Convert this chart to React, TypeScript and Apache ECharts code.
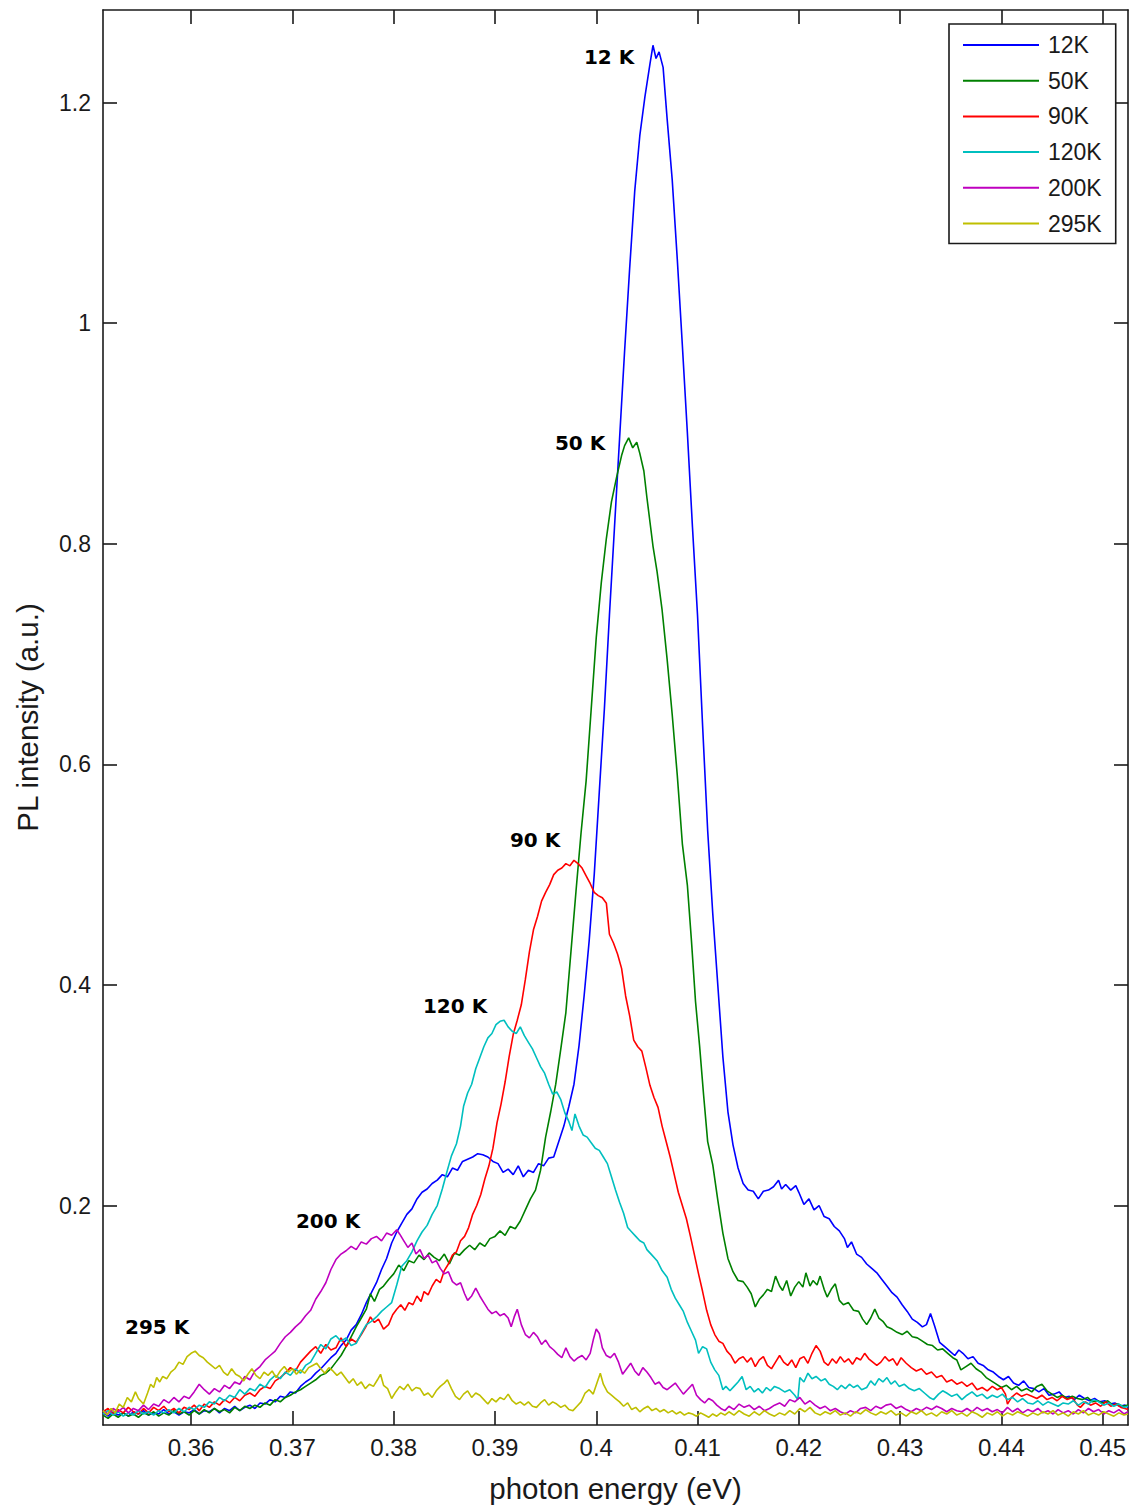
import React, { useEffect, useRef } from "react";
import * as echarts from "echarts";

const seriesNames = ["12K", "50K", "90K", "120K", "200K", "295K"];
const seriesColors = ["#0000ff", "#008000", "#ff0000", "#00bfbf", "#bf00bf", "#bfbf00"];
const xTicks = [0.36, 0.37, 0.38, 0.39, 0.4, 0.41, 0.42, 0.43, 0.44, 0.45];
const yTicks = [0.2, 0.4, 0.6, 0.8, 1.0, 1.2];

const pl12K = [[0.3513,0.012],[0.3518,0.009],[0.3523,0.013],[0.3528,0.010],[0.3533,0.012],[0.3538,0.009],[0.3543,0.013],[0.3548,0.011],[0.3553,0.014],[0.3558,0.010],[0.3563,0.012],[0.3568,0.011],[0.3573,0.015],[0.3578,0.011],[0.3583,0.013],[0.3588,0.010],[0.3593,0.013],[0.3598,0.012],[0.3603,0.015],[0.3608,0.011],[0.3613,0.014],[0.3618,0.013],[0.3623,0.016],[0.3628,0.012],[0.3633,0.016],[0.3638,0.014],[0.3643,0.018],[0.3648,0.014],[0.3653,0.017],[0.3658,0.019],[0.3663,0.016],[0.3668,0.021],[0.3673,0.020],[0.3678,0.024],[0.3683,0.022],[0.3688,0.027],[0.3693,0.026],[0.3698,0.031],[0.3703,0.030],[0.3708,0.036],[0.3713,0.040],[0.3718,0.043],[0.3723,0.048],[0.3728,0.052],[0.3733,0.057],[0.3738,0.062],[0.3743,0.066],[0.3748,0.073],[0.3753,0.078],[0.3758,0.087],[0.3763,0.092],[0.3768,0.101],[0.3773,0.112],[0.3778,0.121],[0.3783,0.130],[0.3788,0.142],[0.3793,0.152],[0.3798,0.166],[0.3803,0.176],[0.3808,0.184],[0.3813,0.192],[0.3818,0.197],[0.3823,0.206],[0.3828,0.212],[0.3833,0.215],[0.3838,0.220],[0.3843,0.223],[0.3848,0.228],[0.3853,0.226],[0.3858,0.234],[0.3863,0.232],[0.3868,0.240],[0.3873,0.242],[0.3878,0.244],[0.3883,0.247],[0.3888,0.246],[0.3893,0.244],[0.3898,0.240],[0.3903,0.238],[0.3908,0.230],[0.3913,0.233],[0.3918,0.228],[0.3923,0.236],[0.3928,0.226],[0.3933,0.232],[0.3938,0.230],[0.3943,0.238],[0.3948,0.236],[0.3953,0.243],[0.3958,0.244],[0.3963,0.258],[0.3968,0.272],[0.3973,0.290],[0.3978,0.310],[0.3983,0.345],[0.3988,0.390],[0.3993,0.440],[0.3998,0.500],[0.4003,0.575],[0.4008,0.650],[0.4013,0.735],[0.4018,0.815],[0.4023,0.895],[0.4028,0.975],[0.4033,1.050],[0.4038,1.120],[0.4043,1.170],[0.4048,1.205],[0.4053,1.235],[0.4056,1.252],[0.4059,1.240],[0.4062,1.246],[0.4066,1.232],[0.4070,1.185],[0.4075,1.130],[0.4080,1.058],[0.4085,0.980],[0.4090,0.900],[0.4095,0.815],[0.4100,0.735],[0.4105,0.635],[0.4110,0.540],[0.4115,0.465],[0.4120,0.400],[0.4125,0.335],[0.4130,0.285],[0.4135,0.255],[0.4140,0.234],[0.4145,0.220],[0.4150,0.214],[0.4155,0.213],[0.4160,0.206],[0.4165,0.213],[0.4170,0.214],[0.4175,0.217],[0.4180,0.223],[0.4183,0.215],[0.4187,0.219],[0.4192,0.214],[0.4197,0.218],[0.4200,0.212],[0.4205,0.201],[0.4210,0.206],[0.4215,0.196],[0.4220,0.200],[0.4225,0.190],[0.4230,0.188],[0.4235,0.181],[0.4240,0.177],[0.4245,0.170],[0.4248,0.162],[0.4252,0.167],[0.4257,0.156],[0.4262,0.153],[0.4267,0.147],[0.4272,0.143],[0.4277,0.139],[0.4282,0.133],[0.4287,0.127],[0.4292,0.121],[0.4297,0.117],[0.4302,0.110],[0.4307,0.104],[0.4312,0.097],[0.4317,0.094],[0.4322,0.090],[0.4326,0.092],[0.4330,0.102],[0.4334,0.091],[0.4339,0.076],[0.4344,0.072],[0.4349,0.068],[0.4354,0.064],[0.4358,0.069],[0.4362,0.066],[0.4367,0.061],[0.4372,0.063],[0.4377,0.057],[0.4382,0.055],[0.4387,0.051],[0.4392,0.049],[0.4397,0.045],[0.4402,0.042],[0.4407,0.045],[0.4412,0.039],[0.4417,0.037],[0.4422,0.041],[0.4427,0.035],[0.4432,0.034],[0.4437,0.031],[0.4442,0.034],[0.4447,0.028],[0.4452,0.029],[0.4457,0.031],[0.4462,0.026],[0.4467,0.027],[0.4472,0.024],[0.4477,0.028],[0.4482,0.025],[0.4487,0.023],[0.4492,0.025],[0.4497,0.022],[0.4502,0.023],[0.4507,0.020],[0.4512,0.021],[0.4517,0.018],[0.4522,0.019],[0.4525,0.017]];

const pl50K = [[0.3513,0.010],[0.3518,0.007],[0.3523,0.011],[0.3528,0.008],[0.3533,0.012],[0.3538,0.009],[0.3543,0.011],[0.3548,0.008],[0.3553,0.012],[0.3558,0.010],[0.3563,0.013],[0.3568,0.009],[0.3573,0.012],[0.3578,0.010],[0.3583,0.014],[0.3588,0.011],[0.3593,0.013],[0.3598,0.010],[0.3603,0.014],[0.3608,0.011],[0.3613,0.015],[0.3618,0.012],[0.3623,0.016],[0.3628,0.013],[0.3633,0.015],[0.3638,0.012],[0.3643,0.017],[0.3648,0.014],[0.3653,0.018],[0.3658,0.016],[0.3663,0.019],[0.3668,0.017],[0.3673,0.021],[0.3678,0.019],[0.3683,0.024],[0.3688,0.022],[0.3693,0.026],[0.3698,0.028],[0.3703,0.031],[0.3708,0.033],[0.3713,0.036],[0.3718,0.039],[0.3723,0.042],[0.3728,0.046],[0.3733,0.048],[0.3738,0.052],[0.3743,0.058],[0.3748,0.064],[0.3753,0.072],[0.3758,0.081],[0.3763,0.090],[0.3768,0.098],[0.3773,0.106],[0.3777,0.120],[0.3781,0.113],[0.3786,0.124],[0.3790,0.127],[0.3795,0.133],[0.3800,0.138],[0.3805,0.146],[0.3810,0.141],[0.3815,0.150],[0.3820,0.148],[0.3825,0.155],[0.3830,0.151],[0.3835,0.157],[0.3840,0.153],[0.3845,0.150],[0.3850,0.156],[0.3855,0.147],[0.3860,0.157],[0.3865,0.155],[0.3870,0.160],[0.3875,0.164],[0.3880,0.160],[0.3885,0.166],[0.3890,0.163],[0.3895,0.170],[0.3900,0.172],[0.3905,0.177],[0.3910,0.173],[0.3915,0.181],[0.3920,0.179],[0.3925,0.186],[0.3930,0.196],[0.3935,0.206],[0.3940,0.214],[0.3945,0.232],[0.3950,0.262],[0.3955,0.285],[0.3960,0.310],[0.3965,0.342],[0.3970,0.375],[0.3975,0.430],[0.3980,0.485],[0.3985,0.538],[0.3990,0.585],[0.3995,0.650],[0.4000,0.715],[0.4005,0.765],[0.4010,0.805],[0.4015,0.838],[0.4020,0.860],[0.4025,0.880],[0.4028,0.889],[0.4032,0.896],[0.4036,0.887],[0.4040,0.892],[0.4043,0.882],[0.4047,0.866],[0.4050,0.842],[0.4053,0.820],[0.4056,0.798],[0.4060,0.775],[0.4065,0.740],[0.4070,0.695],[0.4075,0.645],[0.4080,0.590],[0.4085,0.528],[0.4090,0.490],[0.4094,0.440],[0.4098,0.385],[0.4102,0.345],[0.4106,0.300],[0.4110,0.258],[0.4115,0.237],[0.4120,0.205],[0.4125,0.175],[0.4130,0.152],[0.4135,0.140],[0.4140,0.132],[0.4145,0.131],[0.4149,0.126],[0.4153,0.120],[0.4157,0.108],[0.4161,0.115],[0.4165,0.119],[0.4169,0.124],[0.4173,0.122],[0.4177,0.136],[0.4181,0.127],[0.4184,0.123],[0.4188,0.132],[0.4192,0.118],[0.4196,0.126],[0.4200,0.131],[0.4204,0.126],[0.4207,0.139],[0.4211,0.127],[0.4214,0.132],[0.4218,0.128],[0.4221,0.136],[0.4225,0.124],[0.4228,0.117],[0.4232,0.124],[0.4236,0.129],[0.4240,0.114],[0.4244,0.110],[0.4249,0.112],[0.4254,0.105],[0.4259,0.104],[0.4263,0.097],[0.4267,0.092],[0.4271,0.098],[0.4275,0.106],[0.4279,0.098],[0.4283,0.095],[0.4287,0.090],[0.4292,0.088],[0.4297,0.085],[0.4302,0.083],[0.4307,0.086],[0.4312,0.081],[0.4317,0.080],[0.4322,0.077],[0.4327,0.074],[0.4332,0.073],[0.4337,0.069],[0.4342,0.070],[0.4347,0.066],[0.4352,0.062],[0.4356,0.060],[0.4360,0.051],[0.4365,0.054],[0.4370,0.057],[0.4375,0.052],[0.4380,0.049],[0.4385,0.044],[0.4390,0.041],[0.4395,0.038],[0.4400,0.035],[0.4405,0.037],[0.4410,0.033],[0.4415,0.036],[0.4420,0.032],[0.4425,0.034],[0.4430,0.031],[0.4435,0.036],[0.4440,0.038],[0.4445,0.032],[0.4450,0.029],[0.4455,0.026],[0.4460,0.028],[0.4465,0.025],[0.4470,0.027],[0.4475,0.025],[0.4480,0.024],[0.4485,0.026],[0.4490,0.022],[0.4495,0.023],[0.4500,0.021],[0.4505,0.023],[0.4510,0.019],[0.4515,0.020],[0.4520,0.018],[0.4525,0.019]];

const pl90K = [[0.3513,0.013],[0.3518,0.016],[0.3523,0.011],[0.3528,0.015],[0.3533,0.012],[0.3538,0.017],[0.3543,0.013],[0.3548,0.011],[0.3553,0.016],[0.3558,0.012],[0.3563,0.017],[0.3568,0.014],[0.3573,0.018],[0.3578,0.013],[0.3583,0.016],[0.3588,0.012],[0.3593,0.017],[0.3598,0.015],[0.3603,0.019],[0.3608,0.014],[0.3613,0.020],[0.3618,0.017],[0.3623,0.022],[0.3628,0.019],[0.3633,0.024],[0.3638,0.021],[0.3643,0.026],[0.3648,0.023],[0.3653,0.028],[0.3658,0.030],[0.3663,0.027],[0.3668,0.033],[0.3673,0.036],[0.3678,0.034],[0.3683,0.041],[0.3688,0.044],[0.3693,0.048],[0.3698,0.053],[0.3703,0.050],[0.3708,0.058],[0.3713,0.063],[0.3718,0.068],[0.3723,0.072],[0.3728,0.066],[0.3733,0.074],[0.3738,0.069],[0.3743,0.071],[0.3748,0.080],[0.3753,0.072],[0.3758,0.079],[0.3763,0.076],[0.3768,0.083],[0.3773,0.091],[0.3777,0.099],[0.3781,0.094],[0.3785,0.097],[0.3790,0.088],[0.3795,0.092],[0.3799,0.101],[0.3803,0.106],[0.3807,0.110],[0.3811,0.105],[0.3815,0.112],[0.3819,0.110],[0.3823,0.118],[0.3827,0.113],[0.3830,0.122],[0.3834,0.119],[0.3838,0.127],[0.3842,0.133],[0.3846,0.130],[0.3850,0.141],[0.3854,0.147],[0.3858,0.155],[0.3862,0.158],[0.3866,0.168],[0.3870,0.172],[0.3874,0.180],[0.3878,0.192],[0.3882,0.200],[0.3886,0.210],[0.3890,0.224],[0.3894,0.236],[0.3898,0.252],[0.3902,0.275],[0.3906,0.292],[0.3910,0.312],[0.3914,0.335],[0.3918,0.355],[0.3922,0.368],[0.3926,0.382],[0.3930,0.405],[0.3934,0.430],[0.3938,0.450],[0.3942,0.462],[0.3946,0.476],[0.3950,0.484],[0.3954,0.491],[0.3958,0.500],[0.3962,0.504],[0.3966,0.506],[0.3970,0.510],[0.3974,0.508],[0.3978,0.513],[0.3982,0.510],[0.3986,0.506],[0.3990,0.499],[0.3994,0.492],[0.3998,0.484],[0.4002,0.481],[0.4006,0.479],[0.4010,0.474],[0.4013,0.446],[0.4017,0.438],[0.4021,0.428],[0.4025,0.415],[0.4029,0.390],[0.4033,0.372],[0.4037,0.350],[0.4041,0.344],[0.4045,0.340],[0.4049,0.325],[0.4053,0.309],[0.4057,0.298],[0.4061,0.289],[0.4065,0.272],[0.4069,0.258],[0.4073,0.244],[0.4077,0.228],[0.4081,0.212],[0.4085,0.200],[0.4089,0.188],[0.4093,0.172],[0.4097,0.155],[0.4101,0.138],[0.4105,0.122],[0.4109,0.105],[0.4113,0.092],[0.4117,0.083],[0.4121,0.077],[0.4125,0.075],[0.4129,0.068],[0.4133,0.064],[0.4137,0.057],[0.4141,0.061],[0.4145,0.063],[0.4149,0.058],[0.4153,0.062],[0.4157,0.054],[0.4161,0.060],[0.4165,0.063],[0.4169,0.055],[0.4173,0.052],[0.4177,0.058],[0.4181,0.064],[0.4185,0.058],[0.4189,0.055],[0.4193,0.060],[0.4197,0.053],[0.4201,0.061],[0.4205,0.063],[0.4209,0.057],[0.4213,0.066],[0.4217,0.073],[0.4221,0.068],[0.4225,0.058],[0.4229,0.055],[0.4233,0.061],[0.4237,0.057],[0.4241,0.063],[0.4245,0.058],[0.4249,0.061],[0.4253,0.056],[0.4257,0.062],[0.4261,0.060],[0.4265,0.066],[0.4269,0.061],[0.4273,0.058],[0.4277,0.055],[0.4281,0.058],[0.4285,0.063],[0.4289,0.059],[0.4293,0.061],[0.4297,0.055],[0.4301,0.062],[0.4306,0.057],[0.4311,0.053],[0.4316,0.050],[0.4321,0.052],[0.4326,0.047],[0.4331,0.049],[0.4336,0.044],[0.4341,0.046],[0.4346,0.040],[0.4351,0.042],[0.4356,0.038],[0.4361,0.040],[0.4366,0.036],[0.4371,0.039],[0.4376,0.033],[0.4381,0.035],[0.4386,0.032],[0.4391,0.036],[0.4396,0.033],[0.4400,0.035],[0.4404,0.029],[0.4406,0.020],[0.4410,0.026],[0.4415,0.030],[0.4420,0.027],[0.4425,0.029],[0.4430,0.027],[0.4435,0.025],[0.4440,0.028],[0.4445,0.024],[0.4450,0.026],[0.4455,0.023],[0.4460,0.027],[0.4465,0.024],[0.4470,0.026],[0.4475,0.019],[0.4478,0.017],[0.4483,0.022],[0.4488,0.019],[0.4493,0.021],[0.4498,0.018],[0.4503,0.022],[0.4508,0.018],[0.4513,0.020],[0.4518,0.017],[0.4522,0.016],[0.4525,0.015]];

const pl120K = [[0.3513,0.011],[0.3518,0.014],[0.3523,0.010],[0.3528,0.013],[0.3533,0.009],[0.3538,0.012],[0.3543,0.010],[0.3548,0.014],[0.3553,0.011],[0.3558,0.013],[0.3563,0.010],[0.3568,0.014],[0.3573,0.012],[0.3578,0.015],[0.3583,0.012],[0.3588,0.016],[0.3593,0.013],[0.3598,0.017],[0.3603,0.015],[0.3608,0.019],[0.3613,0.017],[0.3618,0.022],[0.3623,0.020],[0.3628,0.026],[0.3633,0.023],[0.3638,0.028],[0.3643,0.026],[0.3648,0.033],[0.3653,0.029],[0.3658,0.034],[0.3663,0.032],[0.3668,0.038],[0.3673,0.035],[0.3678,0.042],[0.3683,0.046],[0.3688,0.043],[0.3693,0.049],[0.3698,0.046],[0.3703,0.052],[0.3708,0.048],[0.3713,0.055],[0.3718,0.058],[0.3723,0.066],[0.3728,0.074],[0.3733,0.070],[0.3738,0.079],[0.3743,0.082],[0.3748,0.077],[0.3753,0.080],[0.3758,0.073],[0.3763,0.075],[0.3768,0.084],[0.3773,0.092],[0.3778,0.095],[0.3783,0.099],[0.3788,0.104],[0.3793,0.108],[0.3798,0.112],[0.3803,0.128],[0.3808,0.145],[0.3813,0.150],[0.3818,0.158],[0.3823,0.168],[0.3828,0.176],[0.3833,0.182],[0.3838,0.192],[0.3843,0.200],[0.3848,0.215],[0.3853,0.232],[0.3857,0.245],[0.3862,0.256],[0.3866,0.272],[0.3869,0.290],[0.3873,0.302],[0.3877,0.310],[0.3881,0.324],[0.3885,0.334],[0.3889,0.344],[0.3893,0.352],[0.3897,0.356],[0.3901,0.364],[0.3905,0.367],[0.3909,0.368],[0.3913,0.362],[0.3917,0.358],[0.3921,0.356],[0.3925,0.362],[0.3929,0.354],[0.3933,0.348],[0.3937,0.342],[0.3941,0.334],[0.3945,0.326],[0.3949,0.320],[0.3953,0.310],[0.3957,0.301],[0.3961,0.303],[0.3965,0.296],[0.3969,0.284],[0.3973,0.276],[0.3976,0.268],[0.3979,0.283],[0.3983,0.272],[0.3987,0.264],[0.3991,0.262],[0.3995,0.257],[0.3999,0.252],[0.4003,0.250],[0.4007,0.244],[0.4011,0.238],[0.4015,0.226],[0.4019,0.214],[0.4023,0.203],[0.4027,0.193],[0.4031,0.180],[0.4035,0.176],[0.4039,0.172],[0.4043,0.168],[0.4047,0.166],[0.4050,0.160],[0.4055,0.155],[0.4060,0.150],[0.4065,0.141],[0.4070,0.135],[0.4074,0.124],[0.4078,0.116],[0.4082,0.110],[0.4086,0.104],[0.4090,0.094],[0.4094,0.086],[0.4098,0.078],[0.4101,0.066],[0.4105,0.072],[0.4109,0.070],[0.4113,0.058],[0.4117,0.051],[0.4121,0.046],[0.4125,0.033],[0.4128,0.036],[0.4132,0.032],[0.4136,0.036],[0.4140,0.040],[0.4144,0.045],[0.4148,0.033],[0.4152,0.036],[0.4156,0.031],[0.4160,0.034],[0.4164,0.030],[0.4168,0.035],[0.4172,0.032],[0.4176,0.036],[0.4181,0.034],[0.4186,0.031],[0.4191,0.033],[0.4196,0.028],[0.4199,0.024],[0.4201,0.044],[0.4205,0.040],[0.4209,0.048],[0.4213,0.043],[0.4217,0.045],[0.4222,0.041],[0.4226,0.043],[0.4230,0.038],[0.4234,0.036],[0.4238,0.033],[0.4242,0.037],[0.4246,0.034],[0.4250,0.038],[0.4254,0.035],[0.4258,0.037],[0.4262,0.033],[0.4267,0.035],[0.4271,0.041],[0.4275,0.037],[0.4279,0.043],[0.4283,0.040],[0.4287,0.044],[0.4291,0.038],[0.4295,0.041],[0.4299,0.036],[0.4304,0.038],[0.4309,0.034],[0.4314,0.032],[0.4319,0.034],[0.4324,0.030],[0.4329,0.026],[0.4333,0.024],[0.4338,0.029],[0.4342,0.032],[0.4346,0.030],[0.4351,0.027],[0.4356,0.029],[0.4361,0.024],[0.4366,0.028],[0.4371,0.031],[0.4376,0.027],[0.4381,0.029],[0.4386,0.025],[0.4391,0.028],[0.4396,0.026],[0.4401,0.029],[0.4406,0.024],[0.4411,0.026],[0.4416,0.022],[0.4421,0.025],[0.4426,0.021],[0.4431,0.020],[0.4436,0.023],[0.4441,0.019],[0.4446,0.022],[0.4451,0.020],[0.4456,0.018],[0.4461,0.021],[0.4466,0.020],[0.4471,0.023],[0.4476,0.019],[0.4481,0.022],[0.4486,0.020],[0.4491,0.024],[0.4496,0.022],[0.4501,0.019],[0.4506,0.021],[0.4511,0.018],[0.4516,0.020],[0.4521,0.017],[0.4525,0.018]];

const pl200K = [[0.3513,0.014],[0.3518,0.011],[0.3523,0.016],[0.3528,0.013],[0.3533,0.017],[0.3538,0.012],[0.3543,0.016],[0.3548,0.014],[0.3553,0.019],[0.3558,0.015],[0.3563,0.020],[0.3568,0.018],[0.3573,0.024],[0.3578,0.021],[0.3583,0.026],[0.3588,0.022],[0.3593,0.027],[0.3598,0.025],[0.3603,0.031],[0.3608,0.038],[0.3613,0.033],[0.3618,0.029],[0.3623,0.034],[0.3628,0.031],[0.3633,0.037],[0.3638,0.034],[0.3643,0.040],[0.3648,0.038],[0.3653,0.045],[0.3658,0.042],[0.3663,0.050],[0.3668,0.054],[0.3673,0.060],[0.3678,0.064],[0.3683,0.068],[0.3688,0.075],[0.3693,0.081],[0.3698,0.085],[0.3703,0.090],[0.3708,0.094],[0.3713,0.100],[0.3718,0.105],[0.3723,0.115],[0.3728,0.122],[0.3733,0.130],[0.3738,0.142],[0.3743,0.151],[0.3748,0.156],[0.3753,0.159],[0.3758,0.163],[0.3763,0.160],[0.3768,0.167],[0.3773,0.165],[0.3778,0.170],[0.3783,0.172],[0.3788,0.168],[0.3793,0.175],[0.3798,0.173],[0.3803,0.178],[0.3806,0.174],[0.3810,0.168],[0.3814,0.162],[0.3818,0.166],[0.3822,0.156],[0.3826,0.160],[0.3830,0.152],[0.3834,0.155],[0.3838,0.148],[0.3842,0.150],[0.3846,0.143],[0.3850,0.138],[0.3854,0.140],[0.3858,0.131],[0.3862,0.128],[0.3866,0.130],[0.3870,0.120],[0.3873,0.114],[0.3877,0.118],[0.3881,0.125],[0.3885,0.118],[0.3889,0.112],[0.3893,0.106],[0.3897,0.102],[0.3901,0.104],[0.3905,0.100],[0.3909,0.102],[0.3913,0.098],[0.3916,0.090],[0.3919,0.099],[0.3922,0.106],[0.3926,0.092],[0.3930,0.083],[0.3934,0.080],[0.3938,0.085],[0.3942,0.081],[0.3946,0.074],[0.3950,0.078],[0.3954,0.072],[0.3958,0.069],[0.3962,0.065],[0.3966,0.062],[0.3970,0.071],[0.3974,0.063],[0.3978,0.059],[0.3982,0.062],[0.3986,0.064],[0.3990,0.060],[0.3994,0.066],[0.3997,0.078],[0.4000,0.088],[0.4003,0.084],[0.4006,0.071],[0.4010,0.064],[0.4014,0.062],[0.4018,0.066],[0.4022,0.058],[0.4026,0.047],[0.4030,0.052],[0.4034,0.057],[0.4038,0.050],[0.4042,0.046],[0.4046,0.053],[0.4050,0.049],[0.4054,0.044],[0.4058,0.038],[0.4062,0.040],[0.4066,0.035],[0.4070,0.033],[0.4074,0.036],[0.4078,0.039],[0.4082,0.034],[0.4086,0.029],[0.4090,0.033],[0.4095,0.038],[0.4099,0.028],[0.4103,0.024],[0.4107,0.021],[0.4111,0.025],[0.4115,0.023],[0.4119,0.019],[0.4123,0.016],[0.4127,0.014],[0.4131,0.018],[0.4136,0.015],[0.4141,0.020],[0.4146,0.017],[0.4151,0.019],[0.4156,0.015],[0.4161,0.018],[0.4166,0.014],[0.4171,0.016],[0.4176,0.019],[0.4181,0.021],[0.4186,0.018],[0.4191,0.024],[0.4196,0.022],[0.4201,0.026],[0.4206,0.020],[0.4211,0.023],[0.4216,0.019],[0.4221,0.016],[0.4226,0.018],[0.4231,0.014],[0.4236,0.016],[0.4241,0.013],[0.4246,0.011],[0.4251,0.014],[0.4256,0.012],[0.4261,0.016],[0.4266,0.017],[0.4271,0.014],[0.4276,0.018],[0.4281,0.016],[0.4286,0.019],[0.4291,0.020],[0.4296,0.016],[0.4301,0.018],[0.4306,0.015],[0.4311,0.013],[0.4316,0.016],[0.4321,0.014],[0.4326,0.017],[0.4331,0.015],[0.4336,0.018],[0.4341,0.016],[0.4346,0.013],[0.4351,0.016],[0.4356,0.014],[0.4361,0.013],[0.4366,0.016],[0.4371,0.013],[0.4376,0.017],[0.4381,0.014],[0.4386,0.016],[0.4391,0.013],[0.4396,0.015],[0.4401,0.012],[0.4406,0.017],[0.4411,0.013],[0.4416,0.016],[0.4421,0.012],[0.4426,0.015],[0.4431,0.013],[0.4436,0.016],[0.4441,0.012],[0.4446,0.014],[0.4451,0.011],[0.4456,0.015],[0.4461,0.012],[0.4466,0.014],[0.4471,0.011],[0.4476,0.015],[0.4481,0.012],[0.4486,0.016],[0.4491,0.013],[0.4496,0.015],[0.4501,0.011],[0.4506,0.014],[0.4511,0.012],[0.4516,0.015],[0.4521,0.011],[0.4525,0.013]];

const pl295K = [[0.3513,0.014],[0.3517,0.010],[0.3521,0.016],[0.3525,0.012],[0.3529,0.020],[0.3533,0.017],[0.3537,0.026],[0.3541,0.022],[0.3545,0.031],[0.3548,0.025],[0.3553,0.020],[0.3557,0.030],[0.3560,0.038],[0.3563,0.035],[0.3566,0.044],[0.3569,0.040],[0.3572,0.045],[0.3576,0.043],[0.3580,0.049],[0.3584,0.052],[0.3588,0.058],[0.3592,0.056],[0.3596,0.063],[0.3600,0.066],[0.3604,0.068],[0.3608,0.064],[0.3612,0.062],[0.3616,0.058],[0.3620,0.055],[0.3624,0.052],[0.3628,0.055],[0.3632,0.049],[0.3636,0.046],[0.3640,0.052],[0.3644,0.047],[0.3648,0.045],[0.3652,0.041],[0.3656,0.047],[0.3660,0.052],[0.3664,0.046],[0.3668,0.043],[0.3672,0.049],[0.3676,0.046],[0.3680,0.050],[0.3684,0.044],[0.3688,0.050],[0.3692,0.054],[0.3696,0.049],[0.3700,0.052],[0.3704,0.047],[0.3708,0.051],[0.3712,0.048],[0.3716,0.053],[0.3720,0.055],[0.3724,0.057],[0.3728,0.052],[0.3732,0.048],[0.3736,0.053],[0.3740,0.050],[0.3744,0.046],[0.3748,0.049],[0.3752,0.044],[0.3756,0.039],[0.3760,0.043],[0.3764,0.037],[0.3768,0.040],[0.3772,0.034],[0.3776,0.038],[0.3780,0.036],[0.3784,0.042],[0.3787,0.047],[0.3790,0.037],[0.3794,0.034],[0.3798,0.025],[0.3802,0.031],[0.3806,0.036],[0.3810,0.033],[0.3814,0.038],[0.3818,0.032],[0.3822,0.035],[0.3826,0.034],[0.3830,0.028],[0.3834,0.030],[0.3838,0.026],[0.3842,0.032],[0.3846,0.036],[0.3850,0.039],[0.3853,0.042],[0.3857,0.034],[0.3861,0.027],[0.3865,0.024],[0.3869,0.029],[0.3873,0.032],[0.3877,0.026],[0.3881,0.030],[0.3885,0.028],[0.3889,0.024],[0.3893,0.020],[0.3897,0.025],[0.3901,0.022],[0.3905,0.026],[0.3909,0.024],[0.3913,0.029],[0.3917,0.023],[0.3921,0.020],[0.3925,0.022],[0.3929,0.019],[0.3933,0.022],[0.3937,0.018],[0.3941,0.017],[0.3945,0.021],[0.3949,0.024],[0.3953,0.019],[0.3957,0.022],[0.3961,0.020],[0.3965,0.017],[0.3969,0.019],[0.3973,0.015],[0.3977,0.014],[0.3981,0.018],[0.3985,0.022],[0.3989,0.030],[0.3993,0.033],[0.3997,0.029],[0.4001,0.040],[0.4004,0.048],[0.4007,0.038],[0.4011,0.031],[0.4015,0.028],[0.4019,0.025],[0.4023,0.022],[0.4027,0.018],[0.4031,0.021],[0.4035,0.015],[0.4039,0.017],[0.4043,0.013],[0.4047,0.016],[0.4051,0.018],[0.4055,0.014],[0.4059,0.016],[0.4063,0.013],[0.4067,0.015],[0.4071,0.012],[0.4075,0.014],[0.4079,0.011],[0.4083,0.013],[0.4087,0.010],[0.4091,0.012],[0.4095,0.011],[0.4099,0.009],[0.4103,0.012],[0.4107,0.010],[0.4111,0.008],[0.4115,0.011],[0.4119,0.009],[0.4123,0.012],[0.4127,0.010],[0.4131,0.013],[0.4136,0.010],[0.4141,0.014],[0.4146,0.011],[0.4151,0.009],[0.4156,0.013],[0.4161,0.010],[0.4166,0.014],[0.4171,0.011],[0.4176,0.009],[0.4181,0.012],[0.4186,0.010],[0.4191,0.014],[0.4196,0.011],[0.4201,0.016],[0.4206,0.013],[0.4211,0.017],[0.4216,0.012],[0.4221,0.010],[0.4226,0.013],[0.4231,0.011],[0.4236,0.014],[0.4241,0.010],[0.4246,0.012],[0.4251,0.009],[0.4256,0.013],[0.4261,0.011],[0.4266,0.015],[0.4271,0.012],[0.4276,0.010],[0.4281,0.013],[0.4286,0.011],[0.4291,0.014],[0.4296,0.010],[0.4301,0.012],[0.4306,0.009],[0.4311,0.013],[0.4316,0.011],[0.4321,0.014],[0.4326,0.010],[0.4331,0.012],[0.4336,0.009],[0.4341,0.013],[0.4346,0.011],[0.4351,0.014],[0.4356,0.010],[0.4361,0.012],[0.4366,0.009],[0.4371,0.013],[0.4376,0.011],[0.4381,0.008],[0.4386,0.012],[0.4391,0.010],[0.4396,0.013],[0.4401,0.009],[0.4406,0.012],[0.4411,0.010],[0.4416,0.013],[0.4421,0.011],[0.4426,0.009],[0.4431,0.012],[0.4436,0.010],[0.4441,0.013],[0.4446,0.011],[0.4451,0.014],[0.4456,0.010],[0.4461,0.012],[0.4466,0.009],[0.4471,0.013],[0.4476,0.011],[0.4481,0.014],[0.4486,0.010],[0.4491,0.012],[0.4496,0.010],[0.4501,0.013],[0.4506,0.011],[0.4511,0.009],[0.4516,0.012],[0.4521,0.010],[0.4525,0.011]];

const seriesData = [pl12K, pl50K, pl90K, pl120K, pl200K, pl295K];

// annotation labels: text and anchor (eV, intensity)
const annoText = ["12 K", "50 K", "90 K", "120 K", "200 K", "295 K"];
const annoX = [0.40126, 0.3984, 0.39396, 0.38606, 0.37352, 0.35664];
const annoY = [1.2416, 0.891, 0.531, 0.381, 0.186, 0.0896];

const X_MIN = 0.3513;
const X_MAX = 0.4525;
const Y_MIN = 0.001;
const Y_MAX = 1.284;

const FONT = "'Liberation Sans', Arial, Helvetica, sans-serif";
const fmt = (v: number) => String(Number(v.toFixed(2)));

export default function App() {
  const ref = useRef<HTMLDivElement>(null);
  useEffect(() => {
    if (!ref.current) return;
    const chart = echarts.init(ref.current, null, { renderer: "svg" });
    const axisLine = { show: true, onZero: false, lineStyle: { color: "#1a1a1a", width: 1.6 } };
    const tick = (vals: number[]) => ({
      show: true, inside: true, length: 14, customValues: vals,
      lineStyle: { color: "#1a1a1a", width: 1.6 },
    });
    const option: any = {
      animation: false,
      backgroundColor: "#fff",
      grid: { left: 103, right: 4, top: 10, bottom: 80, containLabel: false },
      legend: {
        orient: "vertical",
        left: 949,
        top: 24,
        icon: "rect",
        itemWidth: 76,
        itemHeight: 2,
        itemGap: 12.7,
        padding: [9.5, 14, 8.5, 14],
        borderColor: "#1a1a1a",
        borderWidth: 1.6,
        backgroundColor: "#fff",
        textStyle: { fontSize: 23, lineHeight: 23, color: "#1a1a1a", fontFamily: FONT, padding: [0, 0, 0, 4] },
        data: seriesNames,
      },
      xAxis: [
        {
          type: "value", min: X_MIN, max: X_MAX, position: "bottom",
          name: "photon energy (eV)", nameLocation: "middle", nameGap: 48,
          nameTextStyle: { fontSize: 29.5, color: "#1a1a1a", fontFamily: FONT },
          axisLine, axisTick: tick(xTicks), splitLine: { show: false },
          axisLabel: { show: true, customValues: xTicks, formatter: fmt, fontSize: 24, color: "#1a1a1a", fontFamily: FONT, margin: 10 },
        },
        {
          type: "value", min: X_MIN, max: X_MAX, position: "top",
          axisLine, axisTick: tick(xTicks), splitLine: { show: false },
          axisLabel: { show: false },
        },
      ],
      yAxis: [
        {
          type: "value", min: Y_MIN, max: Y_MAX, position: "left",
          name: "PL intensity (a.u.)", nameLocation: "middle", nameGap: 61,
          nameTextStyle: { fontSize: 29.5, color: "#1a1a1a", fontFamily: FONT },
          axisLine, axisTick: tick(yTicks), splitLine: { show: false },
          axisLabel: { show: true, customValues: yTicks, formatter: fmt, fontSize: 23, color: "#1a1a1a", fontFamily: FONT, margin: 12 },
        },
        {
          type: "value", min: Y_MIN, max: Y_MAX, position: "right",
          axisLine, axisTick: tick(yTicks), splitLine: { show: false },
          axisLabel: { show: false },
        },
      ],
      series: seriesNames.map((name, i) => ({
        name,
        type: "line",
        xAxisIndex: 0,
        yAxisIndex: 0,
        data: seriesData[i],
        symbol: "none",
        showSymbol: false,
        color: seriesColors[i],
        itemStyle: { color: seriesColors[i] },
        lineStyle: { color: seriesColors[i], width: 1.6 },
        z: 2 + i,
      })),
    };
    chart.setOption(option);
    const texts = annoText.map((t, i) => {
      const p = chart.convertToPixel({ xAxisIndex: 0, yAxisIndex: 0 }, [annoX[i], annoY[i]]);
      return {
        type: "text",
        x: p[0],
        y: p[1],
        style: {
          text: t,
          fill: "#000",
          font: "bold 20px 'DejaVu Sans', sans-serif",
          align: "center",
          verticalAlign: "middle",
        },
        z: 100,
      };
    });
    chart.setOption({ graphic: texts });
    return () => chart.dispose();
  }, []);
  return (
    <div
      ref={ref}
      style={{ position: "absolute", left: 0, top: 0, width: 1132, height: 1508 }}
    />
  );
}
